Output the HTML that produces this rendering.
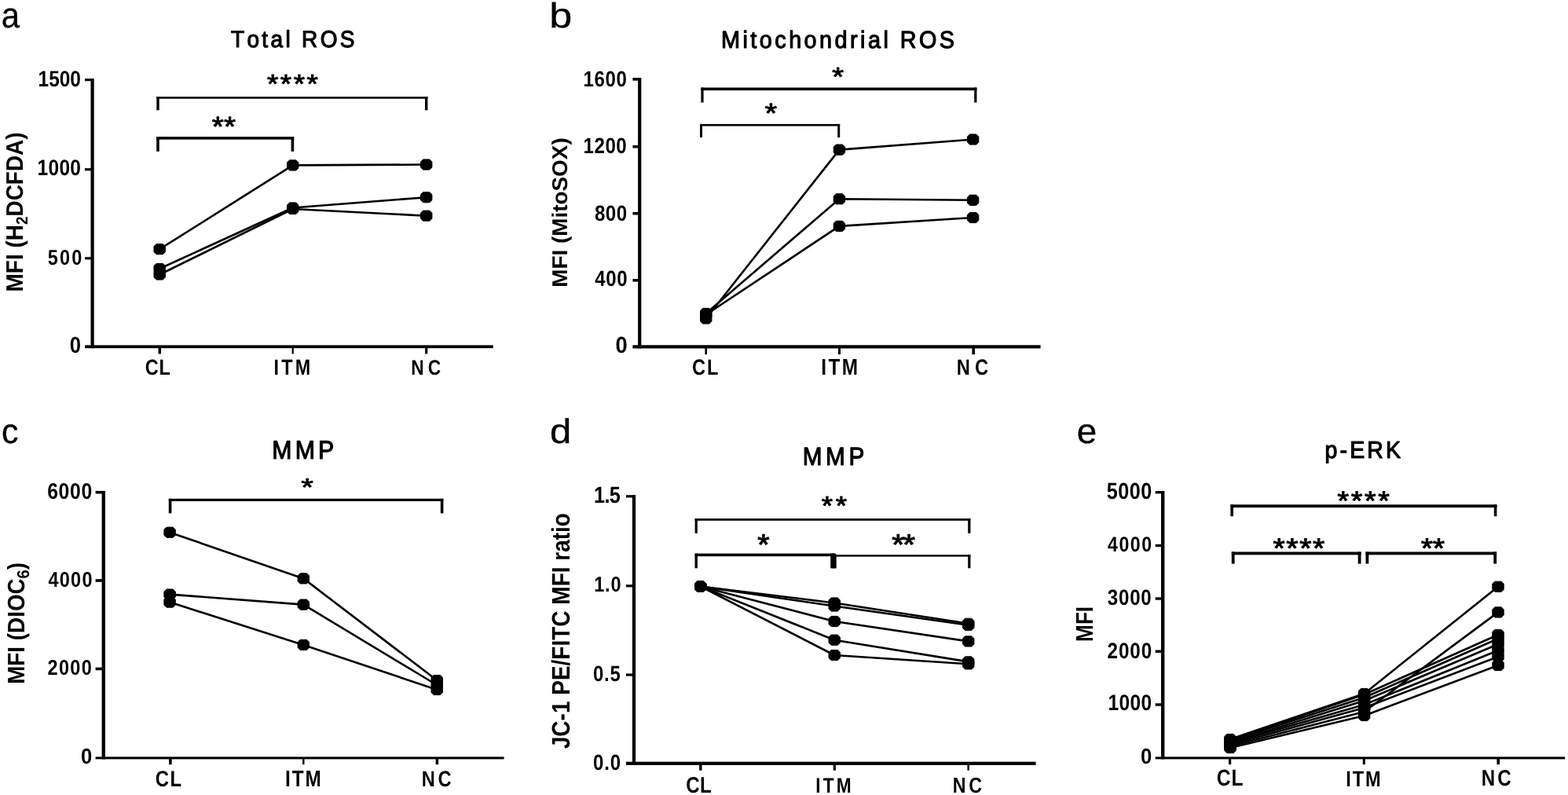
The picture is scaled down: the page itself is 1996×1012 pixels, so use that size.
<!DOCTYPE html>
<html><head><meta charset="utf-8"><title>Figure</title>
<style>
html,body{margin:0;padding:0;background:#fff;}
body{width:1996px;height:1012px;overflow:hidden;}
svg{display:block;}
text{font-family:"Liberation Sans",Arial,sans-serif;font-kerning:none;text-rendering:geometricPrecision;fill:#000;}
</style></head><body>
<svg width="1996" height="1012" viewBox="0 0 1996 1012">
<rect width="1996" height="1012" fill="#fff"/>
<g fill="#000">
<text transform="translate(1.68,34.99) scale(0.9148,1)" font-size="45.64" stroke="#000" stroke-width="0.33" stroke-linejoin="round">a</text>
<text transform="translate(293.99,60.15) scale(0.9400,1)" font-size="29.80" stroke="#000" stroke-width="1.17" stroke-linejoin="round" letter-spacing="3.55">Total ROS</text>
<rect x="115.50" y="100.00" width="4.20" height="343.20"/>
<rect x="108.00" y="439.40" width="519.80" height="3.80"/>
<rect x="108.00" y="100.00" width="9.60" height="3.20"/>
<rect x="108.00" y="214.10" width="9.60" height="3.20"/>
<rect x="108.00" y="327.20" width="9.60" height="3.20"/>
<rect x="201.55" y="441.30" width="3.50" height="9.20"/>
<rect x="371.60" y="441.30" width="2.20" height="9.20"/>
<rect x="541.10" y="441.30" width="3.20" height="9.20"/>
<text transform="translate(48.53,110.12) scale(0.8600,1)" font-size="28.45" font-weight="bold" letter-spacing="0.00">1500</text>
<text transform="translate(47.53,223.12) scale(0.8600,1)" font-size="28.45" font-weight="bold" letter-spacing="0.39">1000</text>
<text transform="translate(60.70,336.53) scale(0.8600,1)" font-size="27.32" font-weight="bold" letter-spacing="2.51">500</text>
<text transform="translate(88.77,449.31) scale(0.8852,1)" font-size="29.01" font-weight="bold">0</text>
<text transform="translate(29.42,371.42) rotate(-90) scale(0.9203,1)" font-size="30.37" font-weight="bold">MFI (H<tspan font-size="20.65" dy="6.07">2</tspan><tspan dy="-6.07">DCFDA)</tspan></text>
<text transform="translate(184.66,476.72) scale(0.8400,1)" font-size="27.89" font-weight="bold" letter-spacing="1.05">CL</text>
<text transform="translate(348.48,476.80) scale(0.8400,1)" font-size="27.83" font-weight="bold" letter-spacing="3.83">ITM</text>
<text transform="translate(523.32,476.53) scale(0.8400,1)" font-size="27.04" font-weight="bold" letter-spacing="5.87">NC</text>
<rect x="199.30" y="123.10" width="345.10" height="2.60"/>
<rect x="199.30" y="123.10" width="3.40" height="17.20"/>
<rect x="541.00" y="123.10" width="3.40" height="17.20"/>
<rect x="199.20" y="174.00" width="175.00" height="3.60"/>
<rect x="199.20" y="174.00" width="3.60" height="18.80"/>
<rect x="370.60" y="174.00" width="3.60" height="18.80"/>
<text transform="translate(340.00,118.22) scale(1.1000,1)" font-size="33.43" stroke="#000" stroke-width="1.00" stroke-linejoin="round" letter-spacing="2.31">****</text>
<text transform="translate(269.77,173.40) scale(1.1000,1)" font-size="35.14" stroke="#000" stroke-width="1.00" stroke-linejoin="round" letter-spacing="0.28">**</text>
<polyline points="203.20,317.20 372.70,210.40 542.70,209.50" fill="none" stroke="#000" stroke-width="2.6" stroke-linejoin="round"/>
<polygon points="199.2,310.6 207.2,310.6 210.4,313.6 210.4,320.8 207.2,323.8 199.2,323.8 196.0,320.8 196.0,313.6" stroke="#000" stroke-width="1.0" stroke-linejoin="round"/>
<polygon points="368.7,203.8 376.7,203.8 379.9,206.8 379.9,214.0 376.7,217.0 368.7,217.0 365.5,214.0 365.5,206.8" stroke="#000" stroke-width="1.0" stroke-linejoin="round"/>
<polygon points="538.7,202.9 546.7,202.9 549.9,205.9 549.9,213.1 546.7,216.1 538.7,216.1 535.5,213.1 535.5,205.9" stroke="#000" stroke-width="1.0" stroke-linejoin="round"/>
<polyline points="203.20,342.00 372.70,264.50 542.70,251.20" fill="none" stroke="#000" stroke-width="2.6" stroke-linejoin="round"/>
<polygon points="199.2,335.4 207.2,335.4 210.4,338.4 210.4,345.6 207.2,348.6 199.2,348.6 196.0,345.6 196.0,338.4" stroke="#000" stroke-width="1.0" stroke-linejoin="round"/>
<polygon points="368.7,257.9 376.7,257.9 379.9,260.9 379.9,268.1 376.7,271.1 368.7,271.1 365.5,268.1 365.5,260.9" stroke="#000" stroke-width="1.0" stroke-linejoin="round"/>
<polygon points="538.7,244.6 546.7,244.6 549.9,247.6 549.9,254.8 546.7,257.8 538.7,257.8 535.5,254.8 535.5,247.6" stroke="#000" stroke-width="1.0" stroke-linejoin="round"/>
<polyline points="203.20,349.50 372.70,266.00 542.70,274.70" fill="none" stroke="#000" stroke-width="2.6" stroke-linejoin="round"/>
<polygon points="199.2,342.9 207.2,342.9 210.4,345.9 210.4,353.1 207.2,356.1 199.2,356.1 196.0,353.1 196.0,345.9" stroke="#000" stroke-width="1.0" stroke-linejoin="round"/>
<polygon points="368.7,259.4 376.7,259.4 379.9,262.4 379.9,269.6 376.7,272.6 368.7,272.6 365.5,269.6 365.5,262.4" stroke="#000" stroke-width="1.0" stroke-linejoin="round"/>
<polygon points="538.7,268.1 546.7,268.1 549.9,271.1 549.9,278.3 546.7,281.3 538.7,281.3 535.5,278.3 535.5,271.1" stroke="#000" stroke-width="1.0" stroke-linejoin="round"/>
<text transform="translate(699.16,35.41) scale(1.1738,1)" font-size="44.49" stroke="#000" stroke-width="0.26" stroke-linejoin="round">b</text>
<text transform="translate(918.05,60.74) scale(0.9400,1)" font-size="30.61" stroke="#000" stroke-width="1.17" stroke-linejoin="round" letter-spacing="3.69">Mitochondrial ROS</text>
<rect x="812.10" y="99.00" width="4.20" height="344.50"/>
<rect x="805.40" y="439.30" width="519.20" height="4.20"/>
<rect x="805.40" y="99.00" width="8.80" height="3.60"/>
<rect x="805.40" y="184.90" width="8.80" height="3.60"/>
<rect x="805.40" y="269.90" width="8.80" height="3.60"/>
<rect x="805.40" y="355.00" width="8.80" height="3.60"/>
<rect x="897.40" y="441.40" width="2.60" height="9.80"/>
<rect x="1067.00" y="441.40" width="3.00" height="9.80"/>
<rect x="1237.40" y="441.40" width="3.60" height="9.80"/>
<text transform="translate(742.56,109.92) scale(0.8600,1)" font-size="27.89" font-weight="bold" letter-spacing="0.71">1600</text>
<text transform="translate(742.55,194.82) scale(0.8600,1)" font-size="28.03" font-weight="bold" letter-spacing="0.61">1200</text>
<text transform="translate(756.88,280.62) scale(0.8600,1)" font-size="28.03" font-weight="bold" letter-spacing="0.67">800</text>
<text transform="translate(757.24,363.92) scale(0.8600,1)" font-size="27.89" font-weight="bold" letter-spacing="0.81">400</text>
<text transform="translate(783.51,449.11) scale(0.9342,1)" font-size="29.30" font-weight="bold">0</text>
<text transform="translate(722.25,365.81) rotate(-90) scale(1.0185,1)" font-size="27.38" font-weight="bold">MFI (MitoSOX)</text>
<text transform="translate(881.05,476.72) scale(0.8400,1)" font-size="28.17" font-weight="bold" letter-spacing="2.36">CL</text>
<text transform="translate(1045.22,477.00) scale(0.8400,1)" font-size="28.99" font-weight="bold" letter-spacing="2.91">ITM</text>
<text transform="translate(1217.66,476.72) scale(0.8400,1)" font-size="28.17" font-weight="bold" letter-spacing="7.45">NC</text>
<rect x="892.40" y="111.50" width="351.00" height="3.60"/>
<rect x="892.40" y="111.50" width="3.20" height="19.00"/>
<rect x="1240.20" y="111.50" width="3.20" height="19.00"/>
<rect x="891.00" y="157.90" width="178.20" height="2.60"/>
<rect x="891.00" y="157.90" width="3.00" height="17.10"/>
<rect x="1066.20" y="157.90" width="3.00" height="17.10"/>
<text transform="translate(1059.18,108.62) scale(1.1384,1)" font-size="33.43" stroke="#000" stroke-width="0.97" stroke-linejoin="round">*</text>
<text transform="translate(973.55,156.40) scale(1.1461,1)" font-size="35.14" stroke="#000" stroke-width="0.96" stroke-linejoin="round">*</text>
<polyline points="898.70,405.50 1068.40,190.60 1238.60,177.50" fill="none" stroke="#000" stroke-width="2.6" stroke-linejoin="round"/>
<polygon points="894.7,398.9 902.7,398.9 905.9,401.9 905.9,409.1 902.7,412.1 894.7,412.1 891.5,409.1 891.5,401.9" stroke="#000" stroke-width="1.0" stroke-linejoin="round"/>
<polygon points="1064.4,184.0 1072.4,184.0 1075.6,187.0 1075.6,194.2 1072.4,197.2 1064.4,197.2 1061.2,194.2 1061.2,187.0" stroke="#000" stroke-width="1.0" stroke-linejoin="round"/>
<polygon points="1234.6,170.9 1242.6,170.9 1245.8,173.9 1245.8,181.1 1242.6,184.1 1234.6,184.1 1231.4,181.1 1231.4,173.9" stroke="#000" stroke-width="1.0" stroke-linejoin="round"/>
<polyline points="898.70,399.00 1068.40,253.30 1238.60,254.80" fill="none" stroke="#000" stroke-width="2.6" stroke-linejoin="round"/>
<polygon points="894.7,392.4 902.7,392.4 905.9,395.4 905.9,402.6 902.7,405.6 894.7,405.6 891.5,402.6 891.5,395.4" stroke="#000" stroke-width="1.0" stroke-linejoin="round"/>
<polygon points="1064.4,246.7 1072.4,246.7 1075.6,249.7 1075.6,256.9 1072.4,259.9 1064.4,259.9 1061.2,256.9 1061.2,249.7" stroke="#000" stroke-width="1.0" stroke-linejoin="round"/>
<polygon points="1234.6,248.2 1242.6,248.2 1245.8,251.2 1245.8,258.4 1242.6,261.4 1234.6,261.4 1231.4,258.4 1231.4,251.2" stroke="#000" stroke-width="1.0" stroke-linejoin="round"/>
<polyline points="898.70,400.50 1068.40,287.90 1238.60,277.00" fill="none" stroke="#000" stroke-width="2.6" stroke-linejoin="round"/>
<polygon points="894.7,393.9 902.7,393.9 905.9,396.9 905.9,404.1 902.7,407.1 894.7,407.1 891.5,404.1 891.5,396.9" stroke="#000" stroke-width="1.0" stroke-linejoin="round"/>
<polygon points="1064.4,281.3 1072.4,281.3 1075.6,284.3 1075.6,291.5 1072.4,294.5 1064.4,294.5 1061.2,291.5 1061.2,284.3" stroke="#000" stroke-width="1.0" stroke-linejoin="round"/>
<polygon points="1234.6,270.4 1242.6,270.4 1245.8,273.4 1245.8,280.6 1242.6,283.6 1234.6,283.6 1231.4,280.6 1231.4,273.4" stroke="#000" stroke-width="1.0" stroke-linejoin="round"/>
<text transform="translate(2.03,564.41) scale(0.9730,1)" font-size="44.18" stroke="#000" stroke-width="0.31" stroke-linejoin="round">c</text>
<text transform="translate(346.33,583.85) scale(0.9200,1)" font-size="32.90" stroke="#000" stroke-width="1.20" stroke-linejoin="round" letter-spacing="4.52">MMP</text>
<rect x="129.60" y="625.00" width="4.40" height="341.40"/>
<rect x="121.60" y="963.40" width="520.00" height="3.00"/>
<rect x="121.60" y="624.90" width="10.20" height="3.60"/>
<rect x="121.60" y="737.20" width="10.20" height="3.60"/>
<rect x="121.60" y="849.60" width="10.20" height="3.60"/>
<rect x="215.10" y="964.90" width="3.60" height="8.30"/>
<rect x="385.10" y="964.90" width="2.40" height="8.30"/>
<rect x="554.70" y="964.90" width="3.40" height="8.30"/>
<text transform="translate(60.14,634.71) scale(0.8600,1)" font-size="28.73" font-weight="bold" letter-spacing="0.80">6000</text>
<text transform="translate(61.45,746.93) scale(0.8600,1)" font-size="27.32" font-weight="bold" letter-spacing="1.48">4000</text>
<text transform="translate(60.58,859.13) scale(0.8600,1)" font-size="27.32" font-weight="bold" letter-spacing="1.50">2000</text>
<text transform="translate(102.97,971.92) scale(0.9304,1)" font-size="27.61" font-weight="bold">0</text>
<text transform="translate(30.82,870.81) rotate(-90) scale(0.9162,1)" font-size="30.37" font-weight="bold">MFI (DIOC<tspan font-size="21.87" dy="6.07">6</tspan><tspan dy="-6.07">)</tspan></text>
<text transform="translate(197.84,1000.72) scale(0.8400,1)" font-size="28.45" font-weight="bold" letter-spacing="1.77">CL</text>
<text transform="translate(363.02,1001.00) scale(0.8400,1)" font-size="28.99" font-weight="bold" letter-spacing="2.31">ITM</text>
<text transform="translate(536.66,1000.72) scale(0.8400,1)" font-size="28.17" font-weight="bold" letter-spacing="4.59">NC</text>
<rect x="214.80" y="634.80" width="349.60" height="3.20"/>
<rect x="214.80" y="634.80" width="3.60" height="18.60"/>
<rect x="560.80" y="634.80" width="3.60" height="18.60"/>
<text transform="translate(383.35,631.23) scale(1.2700,1)" font-size="31.71" stroke="#000" stroke-width="0.87" stroke-linejoin="round">*</text>
<polyline points="216.10,677.70 386.30,736.40 556.20,866.00" fill="none" stroke="#000" stroke-width="2.6" stroke-linejoin="round"/>
<polygon points="212.1,671.1 220.1,671.1 223.3,674.1 223.3,681.3 220.1,684.3 212.1,684.3 208.9,681.3 208.9,674.1" stroke="#000" stroke-width="1.0" stroke-linejoin="round"/>
<polygon points="382.3,729.8 390.3,729.8 393.5,732.8 393.5,740.0 390.3,743.0 382.3,743.0 379.1,740.0 379.1,732.8" stroke="#000" stroke-width="1.0" stroke-linejoin="round"/>
<polygon points="552.2,859.4 560.2,859.4 563.4,862.4 563.4,869.6 560.2,872.6 552.2,872.6 549.0,869.6 549.0,862.4" stroke="#000" stroke-width="1.0" stroke-linejoin="round"/>
<polyline points="216.10,756.60 386.30,769.60 556.20,872.00" fill="none" stroke="#000" stroke-width="2.6" stroke-linejoin="round"/>
<polygon points="212.1,750.0 220.1,750.0 223.3,753.0 223.3,760.2 220.1,763.2 212.1,763.2 208.9,760.2 208.9,753.0" stroke="#000" stroke-width="1.0" stroke-linejoin="round"/>
<polygon points="382.3,763.0 390.3,763.0 393.5,766.0 393.5,773.2 390.3,776.2 382.3,776.2 379.1,773.2 379.1,766.0" stroke="#000" stroke-width="1.0" stroke-linejoin="round"/>
<polygon points="552.2,865.4 560.2,865.4 563.4,868.4 563.4,875.6 560.2,878.6 552.2,878.6 549.0,875.6 549.0,868.4" stroke="#000" stroke-width="1.0" stroke-linejoin="round"/>
<polyline points="216.10,766.60 386.30,820.90 556.20,878.00" fill="none" stroke="#000" stroke-width="2.6" stroke-linejoin="round"/>
<polygon points="212.1,760.0 220.1,760.0 223.3,763.0 223.3,770.2 220.1,773.2 212.1,773.2 208.9,770.2 208.9,763.0" stroke="#000" stroke-width="1.0" stroke-linejoin="round"/>
<polygon points="382.3,814.3 390.3,814.3 393.5,817.3 393.5,824.5 390.3,827.5 382.3,827.5 379.1,824.5 379.1,817.3" stroke="#000" stroke-width="1.0" stroke-linejoin="round"/>
<polygon points="552.2,871.4 560.2,871.4 563.4,874.4 563.4,881.6 560.2,884.6 552.2,884.6 549.0,881.6 549.0,874.4" stroke="#000" stroke-width="1.0" stroke-linejoin="round"/>
<text transform="translate(699.99,564.41) scale(1.1175,1)" font-size="43.95" stroke="#000" stroke-width="0.27" stroke-linejoin="round">d</text>
<text transform="translate(1021.77,591.85) scale(0.9200,1)" font-size="32.32" stroke="#000" stroke-width="1.20" stroke-linejoin="round" letter-spacing="4.94">MMP</text>
<rect x="804.90" y="630.00" width="4.20" height="343.90"/>
<rect x="797.00" y="969.70" width="521.60" height="4.20"/>
<rect x="797.00" y="630.20" width="10.00" height="3.20"/>
<rect x="797.00" y="744.20" width="10.00" height="3.20"/>
<rect x="797.00" y="857.40" width="10.00" height="3.20"/>
<rect x="890.10" y="971.80" width="3.40" height="8.90"/>
<rect x="1060.70" y="971.80" width="3.20" height="8.90"/>
<rect x="1231.40" y="971.80" width="2.40" height="8.90"/>
<text transform="translate(756.08,639.71) scale(0.8600,1)" font-size="29.43" font-weight="bold" letter-spacing="-0.83">1.5</text>
<text transform="translate(756.19,752.53) scale(0.8600,1)" font-size="27.32" font-weight="bold" letter-spacing="0.98">1.0</text>
<text transform="translate(755.04,866.92) scale(0.8600,1)" font-size="27.89" font-weight="bold" letter-spacing="0.83">0.5</text>
<text transform="translate(755.04,979.92) scale(0.8600,1)" font-size="27.89" font-weight="bold" letter-spacing="1.04">0.0</text>
<text transform="translate(725.36,953.22) rotate(-90) scale(0.8693,1)" font-size="32.21" font-weight="bold">JC-1 PE/FITC MFI ratio</text>
<text transform="translate(873.23,1008.91) scale(0.8400,1)" font-size="28.73" font-weight="bold" letter-spacing="0.46">CL</text>
<text transform="translate(1038.13,1008.80) scale(0.8400,1)" font-size="26.96" font-weight="bold" letter-spacing="3.93">ITM</text>
<text transform="translate(1212.69,1008.52) scale(0.8400,1)" font-size="27.61" font-weight="bold" letter-spacing="4.64">NC</text>
<rect x="884.60" y="660.00" width="350.80" height="2.80"/>
<rect x="884.60" y="660.00" width="3.20" height="18.80"/>
<rect x="1232.20" y="660.00" width="3.20" height="18.80"/>
<rect x="884.50" y="704.60" width="177.80" height="3.60"/>
<rect x="884.50" y="704.60" width="3.40" height="18.70"/>
<rect x="1058.90" y="704.60" width="3.40" height="18.70"/>
<rect x="1061.40" y="706.20" width="174.00" height="2.40"/>
<rect x="1061.40" y="706.20" width="3.20" height="17.10"/>
<rect x="1232.20" y="706.20" width="3.20" height="17.10"/>
<rect x="1057.2" y="704.6" width="7" height="18.7"/>
<text transform="translate(1045.80,654.82) scale(1.1000,1)" font-size="33.43" stroke="#000" stroke-width="1.00" stroke-linejoin="round" letter-spacing="3.20">**</text>
<text transform="translate(964.16,705.98) scale(1.0464,1)" font-size="37.43" stroke="#000" stroke-width="1.05" stroke-linejoin="round">*</text>
<text transform="translate(1135.13,705.98) scale(1.1000,1)" font-size="37.43" stroke="#000" stroke-width="1.00" stroke-linejoin="round" letter-spacing="-1.98">**</text>
<polyline points="891.70,746.50 1062.20,767.50 1232.70,793.80" fill="none" stroke="#000" stroke-width="2.6" stroke-linejoin="round"/>
<polygon points="887.7,739.9 895.7,739.9 898.9,742.9 898.9,750.1 895.7,753.1 887.7,753.1 884.5,750.1 884.5,742.9" stroke="#000" stroke-width="1.0" stroke-linejoin="round"/>
<polygon points="1058.2,760.9 1066.2,760.9 1069.4,763.9 1069.4,771.1 1066.2,774.1 1058.2,774.1 1055.0,771.1 1055.0,763.9" stroke="#000" stroke-width="1.0" stroke-linejoin="round"/>
<polygon points="1228.7,787.2 1236.7,787.2 1239.9,790.2 1239.9,797.4 1236.7,800.4 1228.7,800.4 1225.5,797.4 1225.5,790.2" stroke="#000" stroke-width="1.0" stroke-linejoin="round"/>
<polyline points="891.70,746.50 1062.20,771.50 1232.70,795.80" fill="none" stroke="#000" stroke-width="2.6" stroke-linejoin="round"/>
<polygon points="887.7,739.9 895.7,739.9 898.9,742.9 898.9,750.1 895.7,753.1 887.7,753.1 884.5,750.1 884.5,742.9" stroke="#000" stroke-width="1.0" stroke-linejoin="round"/>
<polygon points="1058.2,764.9 1066.2,764.9 1069.4,767.9 1069.4,775.1 1066.2,778.1 1058.2,778.1 1055.0,775.1 1055.0,767.9" stroke="#000" stroke-width="1.0" stroke-linejoin="round"/>
<polygon points="1228.7,789.2 1236.7,789.2 1239.9,792.2 1239.9,799.4 1236.7,802.4 1228.7,802.4 1225.5,799.4 1225.5,792.2" stroke="#000" stroke-width="1.0" stroke-linejoin="round"/>
<polyline points="891.70,746.50 1062.20,791.00 1232.70,816.40" fill="none" stroke="#000" stroke-width="2.6" stroke-linejoin="round"/>
<polygon points="887.7,739.9 895.7,739.9 898.9,742.9 898.9,750.1 895.7,753.1 887.7,753.1 884.5,750.1 884.5,742.9" stroke="#000" stroke-width="1.0" stroke-linejoin="round"/>
<polygon points="1058.2,784.4 1066.2,784.4 1069.4,787.4 1069.4,794.6 1066.2,797.6 1058.2,797.6 1055.0,794.6 1055.0,787.4" stroke="#000" stroke-width="1.0" stroke-linejoin="round"/>
<polygon points="1228.7,809.8 1236.7,809.8 1239.9,812.8 1239.9,820.0 1236.7,823.0 1228.7,823.0 1225.5,820.0 1225.5,812.8" stroke="#000" stroke-width="1.0" stroke-linejoin="round"/>
<polyline points="891.70,746.50 1062.20,814.70 1232.70,842.40" fill="none" stroke="#000" stroke-width="2.6" stroke-linejoin="round"/>
<polygon points="887.7,739.9 895.7,739.9 898.9,742.9 898.9,750.1 895.7,753.1 887.7,753.1 884.5,750.1 884.5,742.9" stroke="#000" stroke-width="1.0" stroke-linejoin="round"/>
<polygon points="1058.2,808.1 1066.2,808.1 1069.4,811.1 1069.4,818.3 1066.2,821.3 1058.2,821.3 1055.0,818.3 1055.0,811.1" stroke="#000" stroke-width="1.0" stroke-linejoin="round"/>
<polygon points="1228.7,835.8 1236.7,835.8 1239.9,838.8 1239.9,846.0 1236.7,849.0 1228.7,849.0 1225.5,846.0 1225.5,838.8" stroke="#000" stroke-width="1.0" stroke-linejoin="round"/>
<polyline points="891.70,746.50 1062.20,834.00 1232.70,845.30" fill="none" stroke="#000" stroke-width="2.6" stroke-linejoin="round"/>
<polygon points="887.7,739.9 895.7,739.9 898.9,742.9 898.9,750.1 895.7,753.1 887.7,753.1 884.5,750.1 884.5,742.9" stroke="#000" stroke-width="1.0" stroke-linejoin="round"/>
<polygon points="1058.2,827.4 1066.2,827.4 1069.4,830.4 1069.4,837.6 1066.2,840.6 1058.2,840.6 1055.0,837.6 1055.0,830.4" stroke="#000" stroke-width="1.0" stroke-linejoin="round"/>
<polygon points="1228.7,838.7 1236.7,838.7 1239.9,841.7 1239.9,848.9 1236.7,851.9 1228.7,851.9 1225.5,848.9 1225.5,841.7" stroke="#000" stroke-width="1.0" stroke-linejoin="round"/>
<text transform="translate(1370.72,564.41) scale(1.0354,1)" font-size="44.18" stroke="#000" stroke-width="0.29" stroke-linejoin="round">e</text>
<text transform="translate(1686.50,582.88) scale(0.9400,1)" font-size="30.33" stroke="#000" stroke-width="1.17" stroke-linejoin="round" letter-spacing="3.37">p-ERK</text>
<rect x="1478.00" y="625.00" width="4.40" height="341.40"/>
<rect x="1470.70" y="963.40" width="521.50" height="3.00"/>
<rect x="1470.70" y="625.00" width="9.50" height="3.40"/>
<rect x="1470.70" y="692.80" width="9.50" height="3.40"/>
<rect x="1470.70" y="760.30" width="9.50" height="3.40"/>
<rect x="1470.70" y="827.50" width="9.50" height="3.40"/>
<rect x="1470.70" y="895.30" width="9.50" height="3.40"/>
<rect x="1564.00" y="964.90" width="3.20" height="8.20"/>
<rect x="1734.80" y="964.90" width="3.00" height="8.20"/>
<rect x="1905.40" y="964.90" width="3.60" height="8.20"/>
<text transform="translate(1408.64,635.11) scale(0.8600,1)" font-size="29.30" font-weight="bold" letter-spacing="0.58">5000</text>
<text transform="translate(1410.05,701.83) scale(0.8600,1)" font-size="26.90" font-weight="bold" letter-spacing="1.78">4000</text>
<text transform="translate(1409.80,769.82) scale(0.8600,1)" font-size="28.03" font-weight="bold" letter-spacing="0.90">3000</text>
<text transform="translate(1409.55,837.52) scale(0.8600,1)" font-size="28.17" font-weight="bold" letter-spacing="1.05">2000</text>
<text transform="translate(1410.53,903.72) scale(0.8600,1)" font-size="28.45" font-weight="bold" letter-spacing="0.47">1000</text>
<text transform="translate(1451.97,971.92) scale(0.9304,1)" font-size="27.61" font-weight="bold">0</text>
<text transform="translate(1391.20,816.90) rotate(-90) scale(0.8515,1)" font-size="30.72" font-weight="bold">MFI</text>
<text transform="translate(1548.82,1000.31) scale(0.8400,1)" font-size="29.30" font-weight="bold" letter-spacing="0.94">CL</text>
<text transform="translate(1713.26,1000.60) scale(0.8400,1)" font-size="28.12" font-weight="bold" letter-spacing="2.17">ITM</text>
<text transform="translate(1885.63,1000.31) scale(0.8400,1)" font-size="28.73" font-weight="bold" letter-spacing="3.83">NC</text>
<rect x="1566.40" y="642.30" width="339.00" height="3.80"/>
<rect x="1566.40" y="642.30" width="3.60" height="14.90"/>
<rect x="1901.80" y="642.30" width="3.60" height="14.90"/>
<rect x="1567.80" y="702.50" width="164.70" height="3.80"/>
<rect x="1567.80" y="702.50" width="3.80" height="15.10"/>
<rect x="1728.70" y="702.50" width="3.80" height="15.10"/>
<rect x="1738.50" y="702.50" width="166.60" height="3.80"/>
<rect x="1738.50" y="702.50" width="3.80" height="15.10"/>
<rect x="1901.30" y="702.50" width="3.80" height="15.10"/>
<text transform="translate(1702.59,649.41) scale(1.1000,1)" font-size="34.00" stroke="#000" stroke-width="1.00" stroke-linejoin="round" letter-spacing="2.44">****</text>
<text transform="translate(1620.56,709.59) scale(1.1000,1)" font-size="35.71" stroke="#000" stroke-width="1.00" stroke-linejoin="round" letter-spacing="1.39">****</text>
<text transform="translate(1808.76,709.59) scale(1.1000,1)" font-size="35.71" stroke="#000" stroke-width="1.00" stroke-linejoin="round" letter-spacing="-0.33">**</text>
<polyline points="1566.00,941.00 1736.60,883.00 1907.00,746.80" fill="none" stroke="#000" stroke-width="2.6" stroke-linejoin="round"/>
<polygon points="1562.0,934.4 1570.0,934.4 1573.2,937.4 1573.2,944.6 1570.0,947.6 1562.0,947.6 1558.8,944.6 1558.8,937.4" stroke="#000" stroke-width="1.0" stroke-linejoin="round"/>
<polygon points="1732.6,876.4 1740.6,876.4 1743.8,879.4 1743.8,886.6 1740.6,889.6 1732.6,889.6 1729.4,886.6 1729.4,879.4" stroke="#000" stroke-width="1.0" stroke-linejoin="round"/>
<polygon points="1903.0,740.2 1911.0,740.2 1914.2,743.2 1914.2,750.4 1911.0,753.4 1903.0,753.4 1899.8,750.4 1899.8,743.2" stroke="#000" stroke-width="1.0" stroke-linejoin="round"/>
<polyline points="1566.00,950.00 1736.60,906.00 1907.00,779.40" fill="none" stroke="#000" stroke-width="2.6" stroke-linejoin="round"/>
<polygon points="1562.0,943.4 1570.0,943.4 1573.2,946.4 1573.2,953.6 1570.0,956.6 1562.0,956.6 1558.8,953.6 1558.8,946.4" stroke="#000" stroke-width="1.0" stroke-linejoin="round"/>
<polygon points="1732.6,899.4 1740.6,899.4 1743.8,902.4 1743.8,909.6 1740.6,912.6 1732.6,912.6 1729.4,909.6 1729.4,902.4" stroke="#000" stroke-width="1.0" stroke-linejoin="round"/>
<polygon points="1903.0,772.8 1911.0,772.8 1914.2,775.8 1914.2,783.0 1911.0,786.0 1903.0,786.0 1899.8,783.0 1899.8,775.8" stroke="#000" stroke-width="1.0" stroke-linejoin="round"/>
<polyline points="1566.00,942.00 1736.60,884.00 1907.00,808.00" fill="none" stroke="#000" stroke-width="2.6" stroke-linejoin="round"/>
<polygon points="1562.0,935.4 1570.0,935.4 1573.2,938.4 1573.2,945.6 1570.0,948.6 1562.0,948.6 1558.8,945.6 1558.8,938.4" stroke="#000" stroke-width="1.0" stroke-linejoin="round"/>
<polygon points="1732.6,877.4 1740.6,877.4 1743.8,880.4 1743.8,887.6 1740.6,890.6 1732.6,890.6 1729.4,887.6 1729.4,880.4" stroke="#000" stroke-width="1.0" stroke-linejoin="round"/>
<polygon points="1903.0,801.4 1911.0,801.4 1914.2,804.4 1914.2,811.6 1911.0,814.6 1903.0,814.6 1899.8,811.6 1899.8,804.4" stroke="#000" stroke-width="1.0" stroke-linejoin="round"/>
<polyline points="1566.00,943.00 1736.60,888.00 1907.00,813.00" fill="none" stroke="#000" stroke-width="2.6" stroke-linejoin="round"/>
<polygon points="1562.0,936.4 1570.0,936.4 1573.2,939.4 1573.2,946.6 1570.0,949.6 1562.0,949.6 1558.8,946.6 1558.8,939.4" stroke="#000" stroke-width="1.0" stroke-linejoin="round"/>
<polygon points="1732.6,881.4 1740.6,881.4 1743.8,884.4 1743.8,891.6 1740.6,894.6 1732.6,894.6 1729.4,891.6 1729.4,884.4" stroke="#000" stroke-width="1.0" stroke-linejoin="round"/>
<polygon points="1903.0,806.4 1911.0,806.4 1914.2,809.4 1914.2,816.6 1911.0,819.6 1903.0,819.6 1899.8,816.6 1899.8,809.4" stroke="#000" stroke-width="1.0" stroke-linejoin="round"/>
<polyline points="1566.00,945.00 1736.60,892.00 1907.00,820.00" fill="none" stroke="#000" stroke-width="2.6" stroke-linejoin="round"/>
<polygon points="1562.0,938.4 1570.0,938.4 1573.2,941.4 1573.2,948.6 1570.0,951.6 1562.0,951.6 1558.8,948.6 1558.8,941.4" stroke="#000" stroke-width="1.0" stroke-linejoin="round"/>
<polygon points="1732.6,885.4 1740.6,885.4 1743.8,888.4 1743.8,895.6 1740.6,898.6 1732.6,898.6 1729.4,895.6 1729.4,888.4" stroke="#000" stroke-width="1.0" stroke-linejoin="round"/>
<polygon points="1903.0,813.4 1911.0,813.4 1914.2,816.4 1914.2,823.6 1911.0,826.6 1903.0,826.6 1899.8,823.6 1899.8,816.4" stroke="#000" stroke-width="1.0" stroke-linejoin="round"/>
<polyline points="1566.00,946.00 1736.60,897.00 1907.00,828.00" fill="none" stroke="#000" stroke-width="2.6" stroke-linejoin="round"/>
<polygon points="1562.0,939.4 1570.0,939.4 1573.2,942.4 1573.2,949.6 1570.0,952.6 1562.0,952.6 1558.8,949.6 1558.8,942.4" stroke="#000" stroke-width="1.0" stroke-linejoin="round"/>
<polygon points="1732.6,890.4 1740.6,890.4 1743.8,893.4 1743.8,900.6 1740.6,903.6 1732.6,903.6 1729.4,900.6 1729.4,893.4" stroke="#000" stroke-width="1.0" stroke-linejoin="round"/>
<polygon points="1903.0,821.4 1911.0,821.4 1914.2,824.4 1914.2,831.6 1911.0,834.6 1903.0,834.6 1899.8,831.6 1899.8,824.4" stroke="#000" stroke-width="1.0" stroke-linejoin="round"/>
<polyline points="1566.00,948.00 1736.60,901.00 1907.00,836.00" fill="none" stroke="#000" stroke-width="2.6" stroke-linejoin="round"/>
<polygon points="1562.0,941.4 1570.0,941.4 1573.2,944.4 1573.2,951.6 1570.0,954.6 1562.0,954.6 1558.8,951.6 1558.8,944.4" stroke="#000" stroke-width="1.0" stroke-linejoin="round"/>
<polygon points="1732.6,894.4 1740.6,894.4 1743.8,897.4 1743.8,904.6 1740.6,907.6 1732.6,907.6 1729.4,904.6 1729.4,897.4" stroke="#000" stroke-width="1.0" stroke-linejoin="round"/>
<polygon points="1903.0,829.4 1911.0,829.4 1914.2,832.4 1914.2,839.6 1911.0,842.6 1903.0,842.6 1899.8,839.6 1899.8,832.4" stroke="#000" stroke-width="1.0" stroke-linejoin="round"/>
<polyline points="1566.00,952.00 1736.60,911.00 1907.00,847.00" fill="none" stroke="#000" stroke-width="2.6" stroke-linejoin="round"/>
<polygon points="1562.0,945.4 1570.0,945.4 1573.2,948.4 1573.2,955.6 1570.0,958.6 1562.0,958.6 1558.8,955.6 1558.8,948.4" stroke="#000" stroke-width="1.0" stroke-linejoin="round"/>
<polygon points="1732.6,904.4 1740.6,904.4 1743.8,907.4 1743.8,914.6 1740.6,917.6 1732.6,917.6 1729.4,914.6 1729.4,907.4" stroke="#000" stroke-width="1.0" stroke-linejoin="round"/>
<polygon points="1903.0,840.4 1911.0,840.4 1914.2,843.4 1914.2,850.6 1911.0,853.6 1903.0,853.6 1899.8,850.6 1899.8,843.4" stroke="#000" stroke-width="1.0" stroke-linejoin="round"/>
</g>
</svg>
</body></html>
